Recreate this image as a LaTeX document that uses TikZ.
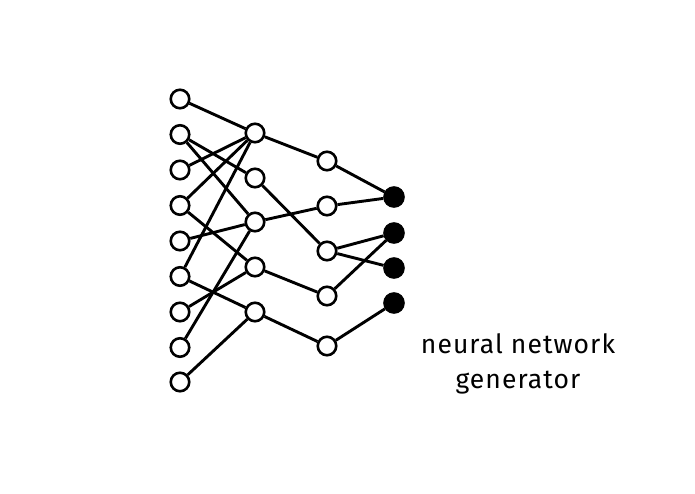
\documentclass[tikz,border=0pt]{standalone}
\usepackage{fontspec}
\setmainfont{Fira Sans}[LetterSpace=4]
\begin{document}
\begin{tikzpicture}[x=1pt,y=-1pt,
  neuron/.style={circle,draw=black,fill=white,line width=2.6pt,minimum size=18.5pt,inner sep=0pt},
  outneuron/.style={circle,draw=black,fill=black,line width=2.6pt,minimum size=19pt,inner sep=0pt},
  edge/.style={line width=2.9pt,black}]
\useasboundingbox (0,0) rectangle (695,494);
% input layer
\foreach \i/\y in {1/99,2/134.5,3/170,4/205.5,5/241,6/276.5,7/312,8/347.5,9/382}
  \node[neuron] (i\i) at (180,\y) {};
% second layer
\foreach \i/\y in {1/133,2/178,3/222,4/267,5/312}
  \node[neuron] (h\i) at (255,\y) {};
% third layer
\foreach \i/\y in {1/161,2/206,3/251,4/296,5/346}
  \node[neuron] (g\i) at (327,\y) {};
% output layer
\foreach \i/\y in {1/197,2/233,3/268,4/303}
  \node[outneuron] (o\i) at (394,\y) {};
% edges input -> second
\foreach \a/\b in {1/1,2/2,2/3,3/1,4/1,4/4,5/3,6/1,6/5,7/4,8/3,9/5}
  \draw[edge] (i\a) -- (h\b);
% edges second -> third
\foreach \a/\b in {1/1,2/3,3/2,4/4,5/5}
  \draw[edge] (h\a) -- (g\b);
% edges third -> output
\foreach \a/\b in {1/1,2/1,3/2,3/3,4/2,5/4}
  \draw[edge] (g\a) -- (o\b);
\node[align=center,font=\fontsize{26.5}{35}\selectfont,inner sep=0pt,anchor=base] (lbl) at (518,388) {neural network\\generator};
\end{tikzpicture}
\end{document}
